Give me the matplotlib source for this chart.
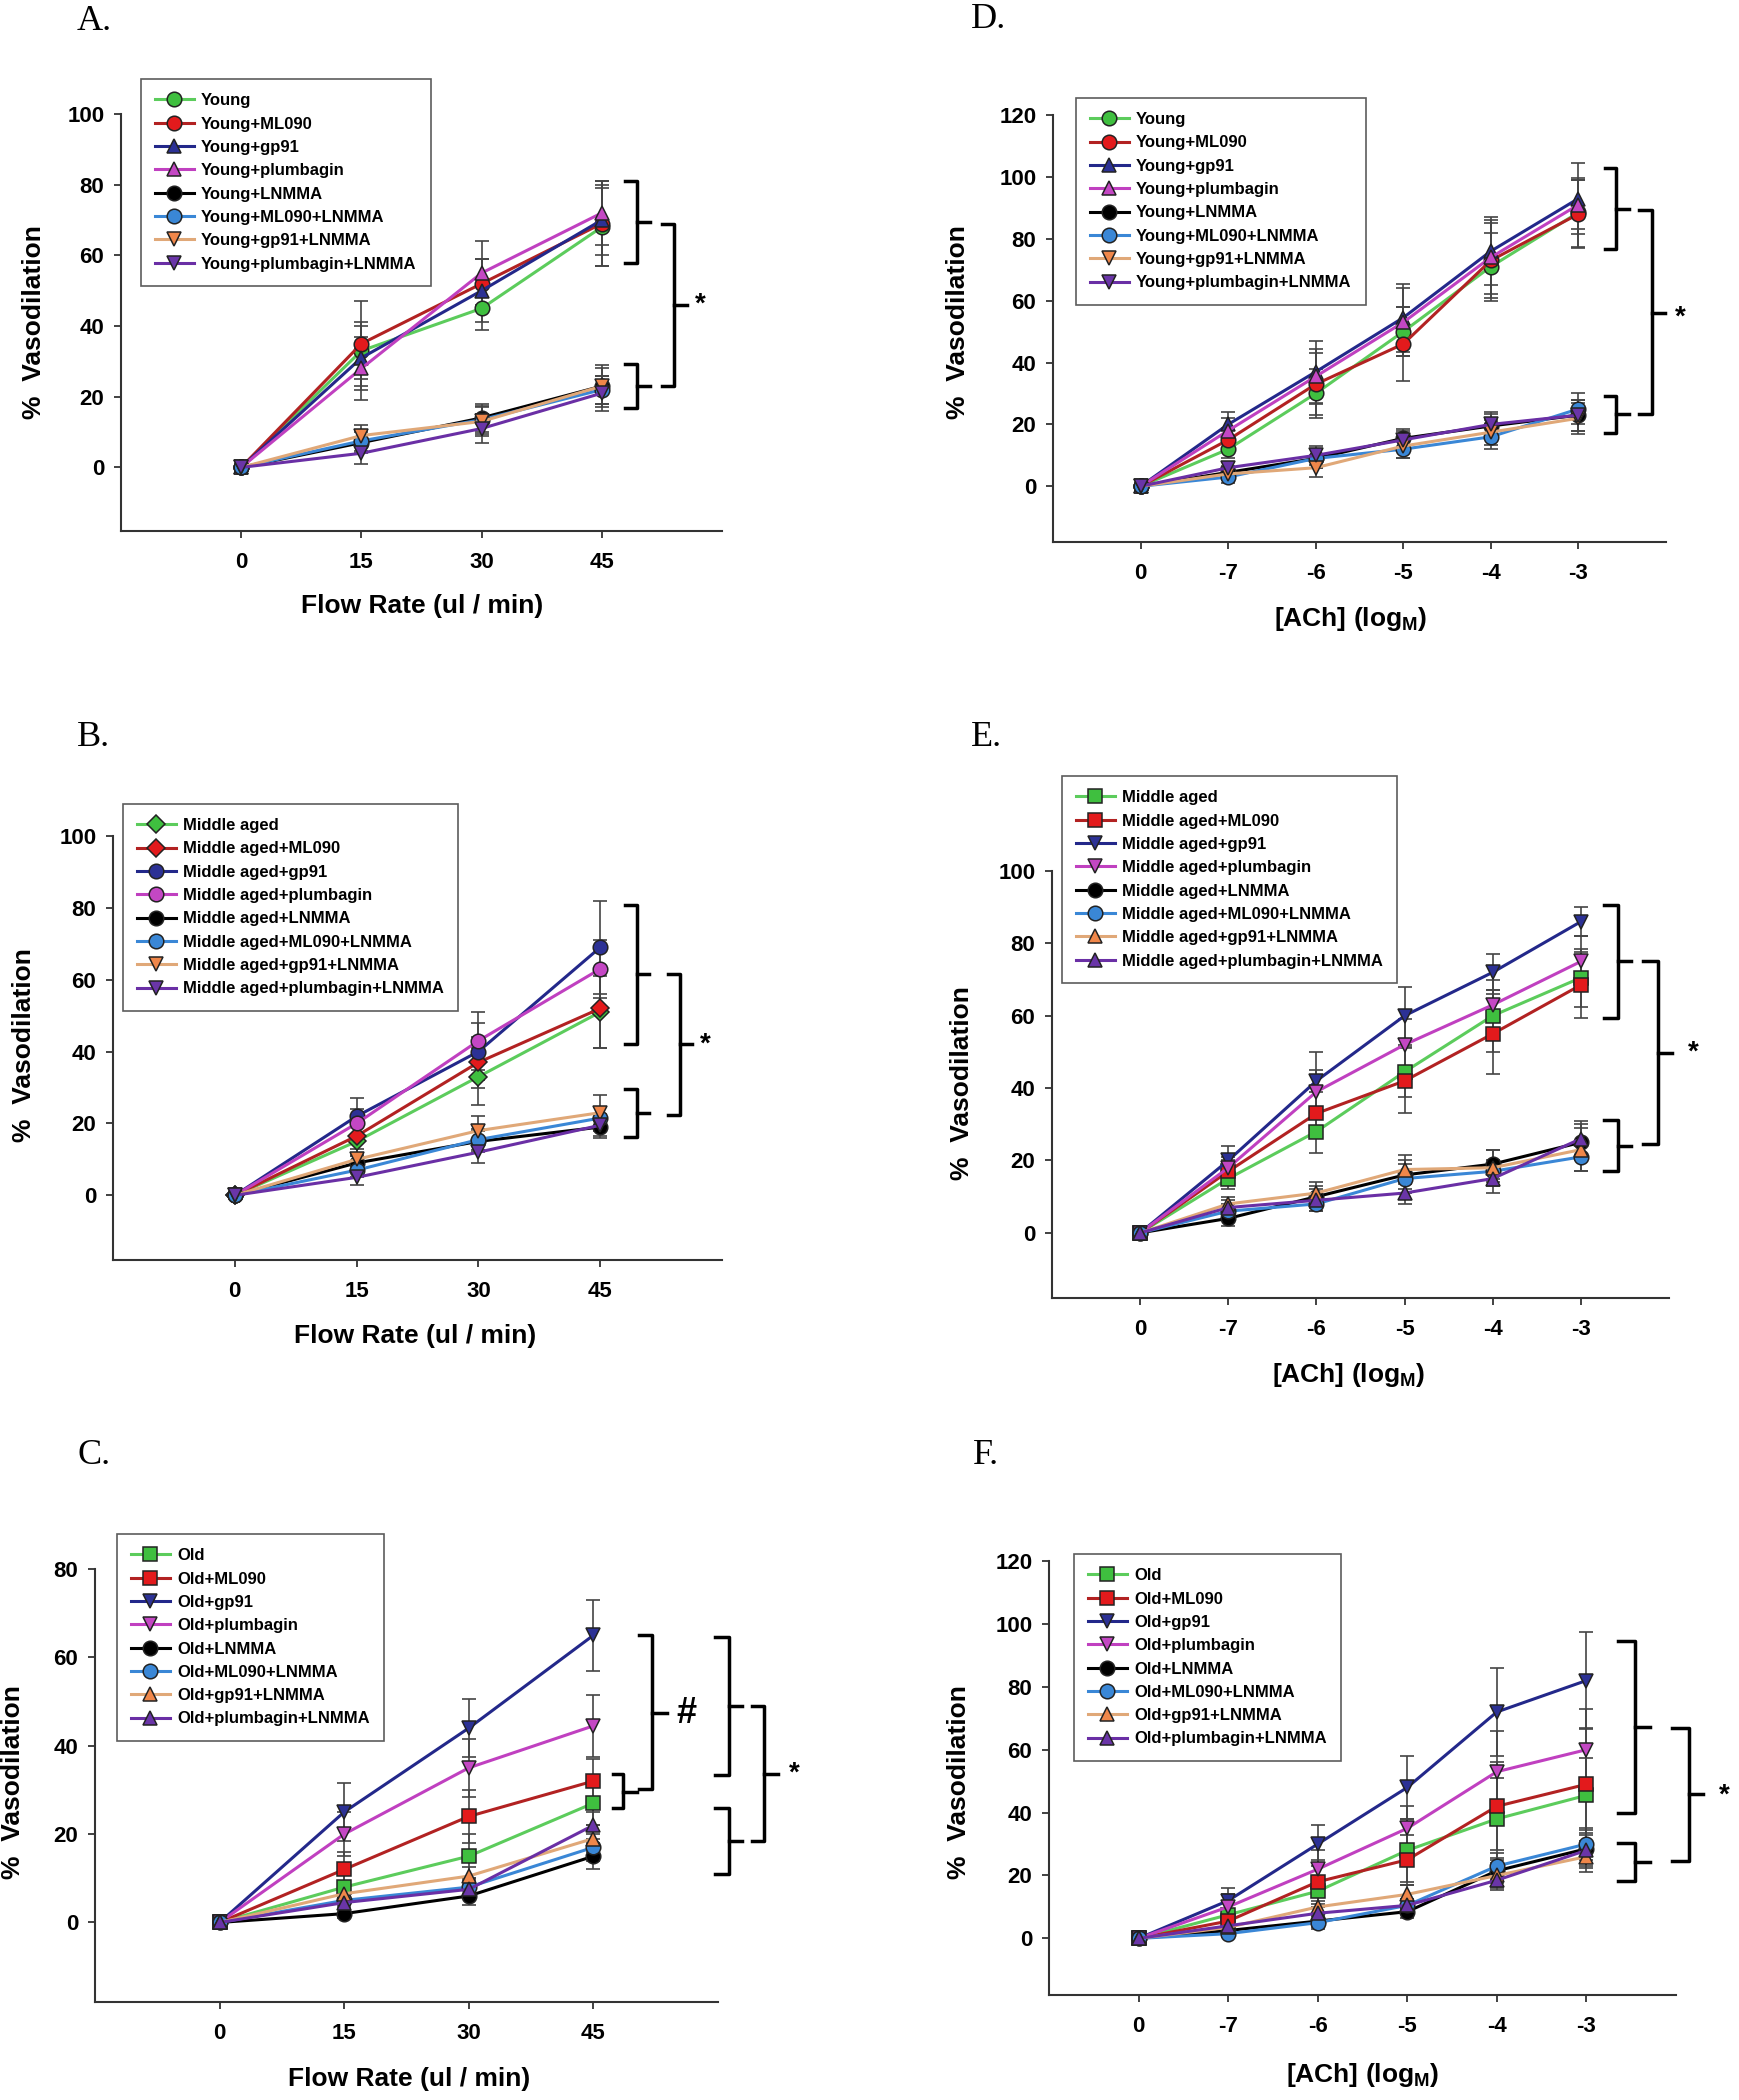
import numpy as np
import matplotlib
matplotlib.use("Agg")
from matplotlib import pyplot as plt

plt.rcParams['font.family'] = ['Liberation Sans', 'DejaVu Sans']
plt.rcParams['font.weight'] = 'bold'
plt.rcParams['mathtext.fontset'] = 'custom'
plt.rcParams['mathtext.rm'] = 'Liberation Sans:bold'
plt.rcParams['mathtext.bf'] = 'Liberation Sans:bold'

W, H = 1739, 2100

# ---- data ----
flow_x = [0, 15, 30, 45]
ach_x = [0, 1, 2, 3, 4, 5]
ach_ticklabels = ["0", "-7", "-6", "-5", "-4", "-3"]

young_labels = ["Young", "Young+ML090", "Young+gp91", "Young+plumbagin", "Young+LNMMA",
                "Young+ML090+LNMMA", "Young+gp91+LNMMA", "Young+plumbagin+LNMMA"]
middle_labels = ["Middle aged", "Middle aged+ML090", "Middle aged+gp91", "Middle aged+plumbagin",
                 "Middle aged+LNMMA", "Middle aged+ML090+LNMMA", "Middle aged+gp91+LNMMA",
                 "Middle aged+plumbagin+LNMMA"]
old_labels = ["Old", "Old+ML090", "Old+gp91", "Old+plumbagin", "Old+LNMMA",
              "Old+ML090+LNMMA", "Old+gp91+LNMMA", "Old+plumbagin+LNMMA"]

A_vals = [[0, 33, 45, 68], [0, 35, 52, 69], [0, 31, 50, 70], [0, 28, 55, 72],
          [0, 7, 14, 23], [0, 7.5, 13.5, 22], [0, 9, 13, 23], [0, 4, 11, 21]]
A_err = [[0, 8, 6, 11], [0, 12, 7, 12], [0, 9, 9, 10], [0, 9, 9, 9],
         [0, 3, 4, 5], [0, 3, 4, 4], [0, 3, 4, 6], [0, 3, 4, 5]]

D_vals = [[0, 12, 30, 50, 71, 88.5], [0, 15, 33, 46, 73, 88], [0, 20, 37, 54.5, 76, 93],
          [0, 18, 35.5, 53, 74, 91], [0, 4.5, 9, 15.5, 19.5, 23], [0, 3, 9, 12, 16, 25],
          [0, 4, 6, 13, 17.5, 22], [0, 6, 10, 15, 20, 23]]
D_err = [[0, 3, 8, 8, 11, 11], [0, 4, 10, 12, 12, 11], [0, 4, 10, 11, 11, 11.5],
         [0, 4, 9, 11, 12, 8], [0, 2, 3, 3, 4, 5], [0, 2, 3, 3, 4, 5],
         [0, 2, 3, 4, 4, 5], [0, 2, 3, 3, 4, 5]]

B_vals = [[0, 15, 33, 51], [0, 16.5, 37, 52], [0, 22, 40, 69], [0, 20, 43, 63],
          [0, 9, 15, 19], [0, 7, 15.5, 21.5], [0, 10, 18, 23], [0, 5, 12, 19.5]]
B_err = [[0, 4, 8, 10], [0, 5, 7, 11], [0, 5, 8, 13], [0, 4, 8, 8],
         [0, 2, 3, 3], [0, 2, 3, 3], [0, 3, 4, 5], [0, 2, 3, 3]]

E_vals = [[0, 15, 28, 44.5, 60, 70.5], [0, 17, 33, 42, 55, 68.5], [0, 20, 42, 60, 72, 86],
          [0, 18, 39, 52, 63, 75], [0, 4, 10, 16, 19, 25], [0, 6, 8, 15, 17, 21],
          [0, 8, 11, 17.5, 18, 23], [0, 7, 9, 11, 15, 26]]
E_err = [[0, 3, 6, 7, 10, 8], [0, 3, 6, 9, 11, 9], [0, 4, 8, 8, 5, 4],
         [0, 3, 6, 7, 4, 7], [0, 2, 3, 4, 4, 5], [0, 2, 2, 4, 3, 4],
         [0, 2, 3, 4, 5, 6], [0, 2, 3, 3, 4, 5]]

C_vals = [[0, 8, 15, 27], [0, 12, 24, 32], [0, 25, 44, 65], [0, 20, 35, 44.5],
          [0, 2, 6, 15], [0, 5, 8, 17], [0, 6.5, 10.5, 19], [0, 4.5, 7.5, 22]]
C_err = [[0, 3, 5, 5], [0, 4, 6, 5], [0, 6.5, 6.5, 8], [0, 5, 6.5, 7],
         [0, 1, 2, 3], [0, 1, 2, 3], [0, 2, 2, 3], [0, 1, 2, 3]]

F_vals = [[0, 7.5, 15, 28, 38, 45.5], [0, 5.5, 18, 25, 42, 49], [0, 12, 30, 48, 72, 82],
          [0, 10, 22, 35, 53, 60], [0, 2.5, 5.5, 8.5, 21.5, 28.5], [0, 1.5, 5, 10.5, 23, 30],
          [0, 3.5, 10, 14, 20, 26], [0, 4, 8, 10.5, 18.5, 28]]
F_err = [[0, 4, 8, 10, 13, 12], [0, 4, 7, 8, 14, 18], [0, 4, 6, 10, 14, 15.5],
         [0, 4, 6, 7, 13, 13], [0, 1, 2, 2, 4, 6], [0, 1, 2, 2, 4, 5],
         [0, 2, 2, 3, 4, 5], [0, 1, 2, 2, 3, 5]]

# ---- styles ----
face_colors = ['#3fbf3f', '#e31a1c', '#2c3195', '#c447c4', '#000000', '#3a87d6', '#f0874a', '#6a35a8']
line_colors = ['#5ccc5c', '#b22222', '#23288a', '#c040c0', '#000000', '#3a87d6', '#e0a878', '#6a2fa5']
mk_young = ['o', 'o', '^', '^', 'o', 'o', 'v', 'v']
mk_mid_flow = ['D', 'D', 'o', 'o', 'o', 'o', 'v', 'v']
mk_old = ['s', 's', 'v', 'v', 'o', 'o', '^', '^']

fig = plt.figure(figsize=(W / 100, H / 100), dpi=100)


def add_axes_px(left, right, top, bottom):
    return fig.add_axes([left / W, 1 - bottom / H, (right - left) / W, (bottom - top) / H])


def brace(ax, x0, x1, y_top, y_bot, y_mid, x_tip):
    ax.plot([x0, x1, x1, x0], [y_top, y_top, y_bot, y_bot], color='black', lw=2.5,
            clip_on=False, solid_joinstyle='round')
    ax.plot([x1, x_tip], [y_mid, y_mid], color='black', lw=2.5, clip_on=False)


def panel(rect, x, vals, errs, labels, markers, xlim, ytop, yticks, xticklabels,
          xlabel, leg_xy, ylab_xy, xlab_xy):
    ax = add_axes_px(*rect)
    for i in range(len(vals)):
        ax.errorbar(x[1:], vals[i][1:], yerr=errs[i][1:], fmt='none', ecolor='#444444',
                    elinewidth=1.2, capsize=5, capthick=1.2, zorder=2)
    for i in range(len(vals)):
        ms = 9 if markers[i] == 'D' else 10.5
        ax.plot(x, vals[i], color=line_colors[i], lw=2.2, marker=markers[i], ms=ms,
                mfc=face_colors[i], mec='#222222', mew=1.1, label=labels[i], zorder=3 + i)
    ax.set_xlim(*xlim)
    ax.set_ylim(-18, ytop)
    ax.set_yticks(yticks)
    ax.set_xticks(x)
    ax.set_xticklabels(xticklabels)
    for s in ['top', 'right']:
        ax.spines[s].set_visible(False)
    for s in ['left', 'bottom']:
        ax.spines[s].set_linewidth(1.5)
        ax.spines[s].set_color('#333333')
    ax.tick_params(axis='both', direction='out', length=5, width=1.3, color='#333333',
                   labelsize=16)
    ax.tick_params(axis='x', pad=10)
    ax.tick_params(axis='y', pad=7)
    ax.set_ylabel("%  Vasodilation", fontsize=19, fontweight='bold')
    ax.yaxis.label.set_va('center')
    ax.yaxis.set_label_coords((ylab_xy[0] - rect[0]) / (rect[1] - rect[0]),
                              (rect[3] - ylab_xy[1]) / (rect[3] - rect[2]))
    ax.set_xlabel(xlabel, fontsize=19, fontweight='bold')
    ax.xaxis.label.set_va('center')
    ax.xaxis.set_label_coords((xlab_xy[0] - rect[0]) / (rect[1] - rect[0]),
                              (rect[3] - xlab_xy[1]) / (rect[3] - rect[2]))
    leg = ax.legend(loc='upper left', bbox_to_anchor=(leg_xy[0] / W, 1 - leg_xy[1] / H),
                    bbox_transform=fig.transFigure, fontsize=12, frameon=True, fancybox=False,
                    edgecolor='#333333', handlelength=2.3, labelspacing=0.5, borderpad=0.85,
                    handletextpad=0.45, borderaxespad=0, markerscale=1.0)
    leg.get_frame().set_linewidth(1.2)
    return ax


flow_lab = "Flow Rate (ul / min)"
ach_lab = r"[ACh] (log$_{\mathbf{M}}$)"

# A
ax = panel((121, 722, 114, 531), flow_x, A_vals, A_err, young_labels, mk_young, (-15, 60), 100,
           [0, 20, 40, 60, 80, 100], flow_x, flow_lab, (141, 79), (34, 322), (422, 606))
brace(ax, 47.9, 49.4, 81, 57.8, 69.3, 51)
brace(ax, 47.9, 49.4, 29.2, 16.9, 23.1, 51)
brace(ax, 52.5, 54, 69, 23.1, 46, 55.6)
ax.text(57.3, 46, "*", fontsize=20, ha='center', va='center', clip_on=False)

# D
ax = panel((1053, 1666, 115, 542), ach_x, D_vals, D_err, young_labels, mk_young, (-1, 6), 120,
           [0, 20, 40, 60, 80, 100, 120], ach_ticklabels, ach_lab, (1076, 98), (958, 322), (1351, 619))
brace(ax, 5.3, 5.43, 103, 76.7, 89.5, 5.58)
brace(ax, 5.3, 5.43, 29.3, 17.3, 23.3, 5.58)
brace(ax, 5.69, 5.84, 89.2, 23.5, 56, 5.99)
ax.text(6.16, 54.6, "*", fontsize=20, ha='center', va='center', clip_on=False)

# B
ax = panel((113, 722, 836, 1260), flow_x, B_vals, B_err, middle_labels, mk_mid_flow,
           (-15, 60), 100, [0, 20, 40, 60, 80, 100], flow_x, flow_lab, (123, 804), (24, 1045),
           (415, 1336))
brace(ax, 48, 49.5, 80.8, 42, 61.7, 51)
brace(ax, 48, 49.5, 29.6, 16.2, 22.8, 51)
brace(ax, 53.3, 54.8, 61.5, 22.4, 42, 56.3)
ax.text(58, 42, "*", fontsize=20, ha='center', va='center', clip_on=False)

# E
ax = panel((1052, 1669, 871, 1298), ach_x, E_vals, E_err, middle_labels, mk_old, (-1, 6), 100,
           [0, 20, 40, 60, 80, 100], ach_ticklabels, ach_lab, (1062, 776), (962, 1083), (1349, 1375))
brace(ax, 5.26, 5.42, 90.7, 59.3, 75, 5.57)
brace(ax, 5.26, 5.42, 31.1, 17.2, 24, 5.57)
brace(ax, 5.71, 5.87, 75, 24.6, 49.7, 6.03)
ax.text(6.28, 49.7, "*", fontsize=20, ha='center', va='center', clip_on=False)

# C
ax = panel((95, 718, 1569, 2002), flow_x, C_vals, C_err, old_labels, mk_old, (-15, 60), 80,
           [0, 20, 40, 60, 80], flow_x, flow_lab, (117, 1534), (13, 1782), (409, 2079))
brace(ax, 47.4, 48.6, 33.6, 25.8, 29.5, 50.3)
brace(ax, 50.5, 52.1, 65, 30.2, 47.4, 53.9)
ax.text(56.2, 47.4, "#", fontsize=26, ha='center', va='center', clip_on=False)
brace(ax, 59.6, 61.3, 64.7, 33.3, 48.9, 62.9)
brace(ax, 59.6, 61.3, 25.8, 10.9, 18.5, 62.9)
brace(ax, 64.1, 65.5, 48.9, 18.5, 33.6, 67.2)
ax.text(69.2, 33.6, "*", fontsize=20, ha='center', va='center', clip_on=False)

# F
ax = panel((1049, 1676, 1561, 1995), ach_x, F_vals, F_err, old_labels, mk_old, (-1, 6), 120,
           [0, 20, 40, 60, 80, 100, 120], ach_ticklabels, ach_lab, (1074, 1554), (959, 1782),
           (1363, 2075))
brace(ax, 5.35, 5.54, 94.5, 39.9, 67.2, 5.71)
brace(ax, 5.35, 5.54, 30.2, 18.1, 24.2, 5.71)
brace(ax, 5.95, 6.14, 67, 24.5, 45.8, 6.3)
ax.text(6.54, 45.5, "*", fontsize=20, ha='center', va='center', clip_on=False)

# panel letters
for txt, px, py in [("A.", 94, 21), ("D.", 989, 20), ("B.", 94, 737), ("E.", 987, 737),
                    ("C.", 94, 1456), ("F.", 986, 1456)]:
    fig.text(px / W, 1 - py / H, txt, family=['Liberation Serif', 'DejaVu Serif'],
             fontsize=26, fontweight='normal', ha='center', va='center')

fig.savefig("out.png", dpi=100)
